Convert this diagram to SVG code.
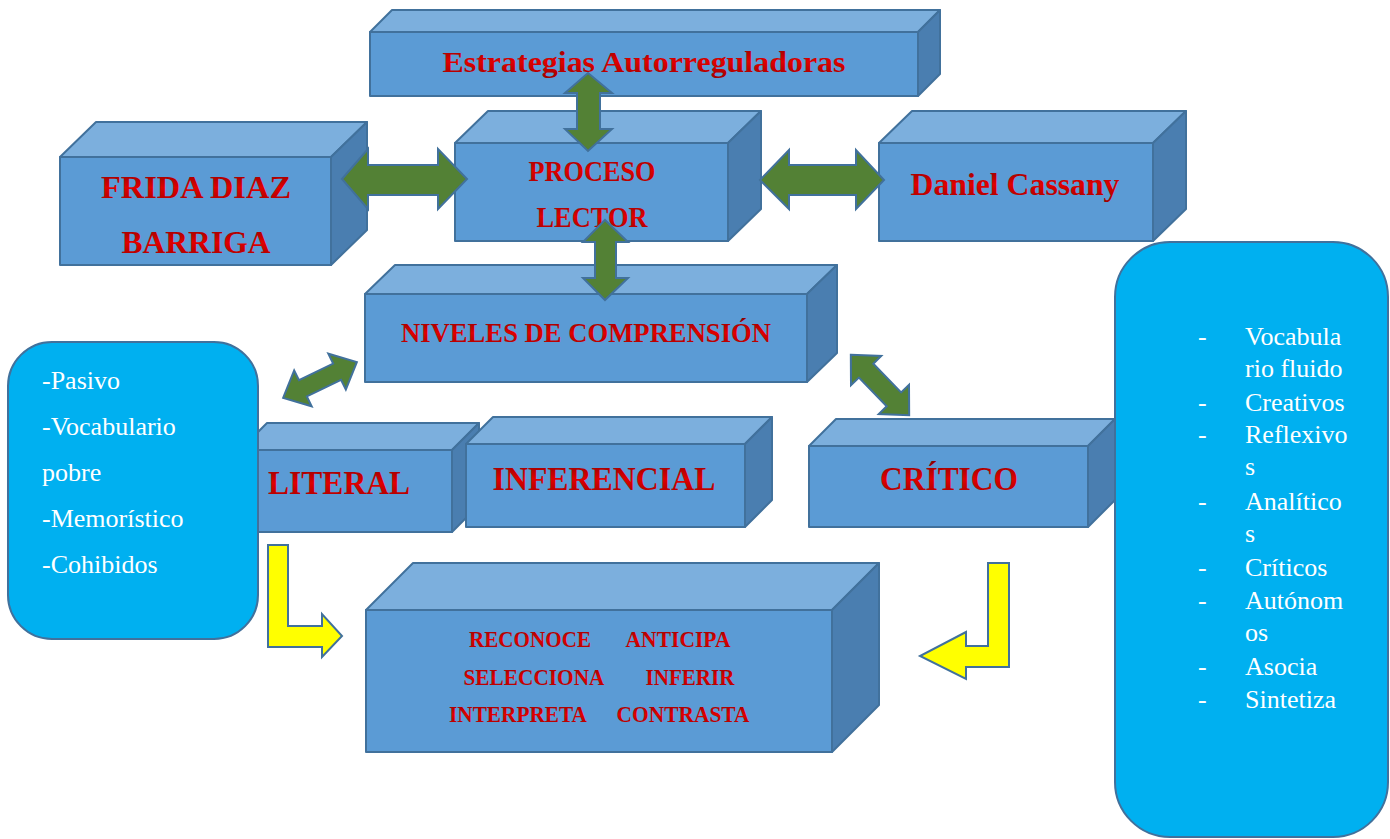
<svg xmlns="http://www.w3.org/2000/svg" width="1390" height="839" viewBox="0 0 1390 839">
<defs>
<linearGradient id="red" x1="0" y1="0" x2="0" y2="1">
<stop offset="0" stop-color="#8B0000"/>
<stop offset="0.5" stop-color="#E00000"/>
<stop offset="1" stop-color="#A00000"/>
</linearGradient>
</defs>
<style>
.front{fill:#5B9BD5;stroke:#41719C;stroke-width:2;stroke-linejoin:round}
.top{fill:#7CAFDD;stroke:#41719C;stroke-width:2;stroke-linejoin:round}
.side{fill:#4A7EB0;stroke:#41719C;stroke-width:2;stroke-linejoin:round}
.lbl{font-family:"Liberation Serif","Times New Roman",serif;font-weight:bold;fill:url(#red);text-anchor:middle}
.note{fill:#00B0F0;stroke:#41719C;stroke-width:2}
.wt{font-family:"Liberation Serif","Times New Roman",serif;font-size:26px;fill:#FFFFFF}
.green{fill:#538135;stroke:#41719C;stroke-width:2;stroke-linejoin:miter}
.yellow{fill:#FFFF00;stroke:#41719C;stroke-width:2;stroke-linejoin:miter}
</style>
<rect width="1390" height="839" fill="#FFFFFF"/>

<g id="estrategias">
<polygon class="top" points="370,32 392,10 940,10 918,32"/>
<polygon class="side" points="918,32 940,10 940,74 918,96"/>
<rect class="front" x="370" y="32" width="548" height="64"/>
<text class="lbl" x="644" y="72" font-size="30" textLength="403" lengthAdjust="spacingAndGlyphs">Estrategias Autorreguladoras</text>
</g>

<g id="frida">
<polygon class="top" points="60,157 96,122 367,122 331,157"/>
<polygon class="side" points="331,157 367,122 367,230 331,265"/>
<rect class="front" x="60" y="157" width="271" height="108"/>
<text class="lbl" x="196" y="198" font-size="31" textLength="190" lengthAdjust="spacingAndGlyphs">FRIDA DIAZ</text>
<text class="lbl" x="196" y="253" font-size="31" textLength="149" lengthAdjust="spacingAndGlyphs">BARRIGA</text>
</g>

<g id="proceso">
<polygon class="top" points="455,143 488,111 761,111 728,143"/>
<polygon class="side" points="728,143 761,111 761,209 728,241"/>
<rect class="front" x="455" y="143" width="273" height="98"/>
<text class="lbl" x="592" y="181" font-size="30" textLength="127" lengthAdjust="spacingAndGlyphs">PROCESO</text>
<text class="lbl" x="592" y="227" font-size="30" textLength="111" lengthAdjust="spacingAndGlyphs">LECTOR</text>
</g>

<g id="daniel">
<polygon class="top" points="879,143 912,111 1186,111 1153,143"/>
<polygon class="side" points="1153,143 1186,111 1186,209 1153,241"/>
<rect class="front" x="879" y="143" width="274" height="98"/>
<text class="lbl" x="1015" y="195" font-size="31" textLength="209" lengthAdjust="spacingAndGlyphs">Daniel Cassany</text>
</g>

<g id="niveles">
<polygon class="top" points="365,294 395,265 837,265 807,294"/>
<polygon class="side" points="807,294 837,265 837,353 807,382"/>
<rect class="front" x="365" y="294" width="442" height="88"/>
<text class="lbl" x="586" y="342" font-size="27" textLength="370" lengthAdjust="spacingAndGlyphs">NIVELES DE COMPRENSIÓN</text>
</g>

<g id="literal">
<polygon class="top" points="240,450 267,423 479,423 452,450"/>
<polygon class="side" points="452,450 479,423 479,505 452,532"/>
<rect class="front" x="240" y="450" width="212" height="82"/>
<text class="lbl" x="339" y="494" font-size="33" textLength="142" lengthAdjust="spacingAndGlyphs">LITERAL</text>
</g>

<g id="inferencial">
<polygon class="top" points="466,444 493,417 772,417 745,444"/>
<polygon class="side" points="745,444 772,417 772,500 745,527"/>
<rect class="front" x="466" y="444" width="279" height="83"/>
<text class="lbl" x="604" y="490" font-size="33" textLength="223" lengthAdjust="spacingAndGlyphs">INFERENCIAL</text>
</g>

<g id="critico">
<polygon class="top" points="809,446 836,419 1115,419 1088,446"/>
<polygon class="side" points="1088,446 1115,419 1115,500 1088,527"/>
<rect class="front" x="809" y="446" width="279" height="81"/>
<text class="lbl" x="949" y="490" font-size="33" textLength="138" lengthAdjust="spacingAndGlyphs">CRÍTICO</text>
</g>

<g id="habilidades">
<polygon class="top" points="366,610 413,563 879,563 832,610"/>
<polygon class="side" points="832,610 879,563 879,705 832,752"/>
<rect class="front" x="366" y="610" width="466" height="142"/>
<text class="lbl" font-size="23" y="647"><tspan x="530" textLength="122" lengthAdjust="spacingAndGlyphs">RECONOCE</tspan><tspan x="678" textLength="105" lengthAdjust="spacingAndGlyphs">ANTICIPA</tspan></text>
<text class="lbl" font-size="23" y="685"><tspan x="534" textLength="141" lengthAdjust="spacingAndGlyphs">SELECCIONA</tspan><tspan x="690" textLength="89" lengthAdjust="spacingAndGlyphs">INFERIR</tspan></text>
<text class="lbl" font-size="23" y="722"><tspan x="518" textLength="138" lengthAdjust="spacingAndGlyphs">INTERPRETA</tspan><tspan x="683" textLength="133" lengthAdjust="spacingAndGlyphs">CONTRASTA</tspan></text>
</g>

<g id="nota-literal">
<rect class="note" x="8" y="342" width="250" height="297" rx="44" ry="44"/>
<text class="wt" x="42" y="389">-Pasivo</text>
<text class="wt" x="42" y="435">-Vocabulario</text>
<text class="wt" x="42" y="481">pobre</text>
<text class="wt" x="42" y="527">-Memorístico</text>
<text class="wt" x="42" y="573">-Cohibidos</text>
</g>

<g id="nota-critico">
<rect class="note" x="1115" y="242" width="273" height="595" rx="55" ry="55"/>
<g class="wt">
<text x="1198" y="345">-</text><text x="1245" y="345">Vocabula</text>
<text x="1245" y="377">rio fluido</text>
<text x="1198" y="411">-</text><text x="1245" y="411">Creativos</text>
<text x="1198" y="443">-</text><text x="1245" y="443">Reflexivo</text>
<text x="1245" y="475">s</text>
<text x="1198" y="510">-</text><text x="1245" y="510">Analítico</text>
<text x="1245" y="542">s</text>
<text x="1198" y="576">-</text><text x="1245" y="576">Críticos</text>
<text x="1198" y="609">-</text><text x="1245" y="609">Autónom</text>
<text x="1245" y="641">os</text>
<text x="1198" y="675">-</text><text x="1245" y="675">Asocia</text>
<text x="1198" y="708">-</text><text x="1245" y="708">Sintetiza</text>
</g>
</g>

<g id="connectors">
<!-- Estrategias <-> Proceso -->
<polygon class="green" points="588,73 612,93 600,93 600,129 612,129 588,151 565,129 577,129 577,93 565,93"/>
<!-- Frida <-> Proceso -->
<polygon class="green" points="342,179 368,149 368,165 438,165 438,149 467,179 438,209 438,195 368,195 368,209"/>
<!-- Proceso <-> Daniel -->
<polygon class="green" points="760,180 789,150 789,165 856,165 856,150 884,180 856,209 856,195 789,195 789,209"/>
<!-- Proceso <-> Niveles -->
<polygon class="green" points="605,220 628,242 616,242 616,278 628,278 605,300 583,278 595,278 595,242 583,242"/>
<!-- Niveles <-> Literal -->
<polygon class="green" transform="translate(320,380) rotate(-26)" points="-41,0 -19,-20 -19,-9 19,-9 19,-20 41,0 19,20 19,9 -19,9 -19,20"/>
<!-- Niveles <-> Critico -->
<polygon class="green" transform="translate(880,385) rotate(46)" points="-42,0 -20,-21 -20,-10 20,-10 20,-21 42,0 20,21 20,10 -20,10 -20,21"/>
<!-- Literal -> habilidades -->
<polygon class="yellow" points="268,545 288,545 288,626 322,626 322,614 342,636 322,657 322,647 268,647"/>
<!-- Critico -> habilidades -->
<polygon class="yellow" points="988,563 1009,563 1009,667 966,667 966,679 920,656 966,632 966,646 988,646"/>
</g>
</svg>
